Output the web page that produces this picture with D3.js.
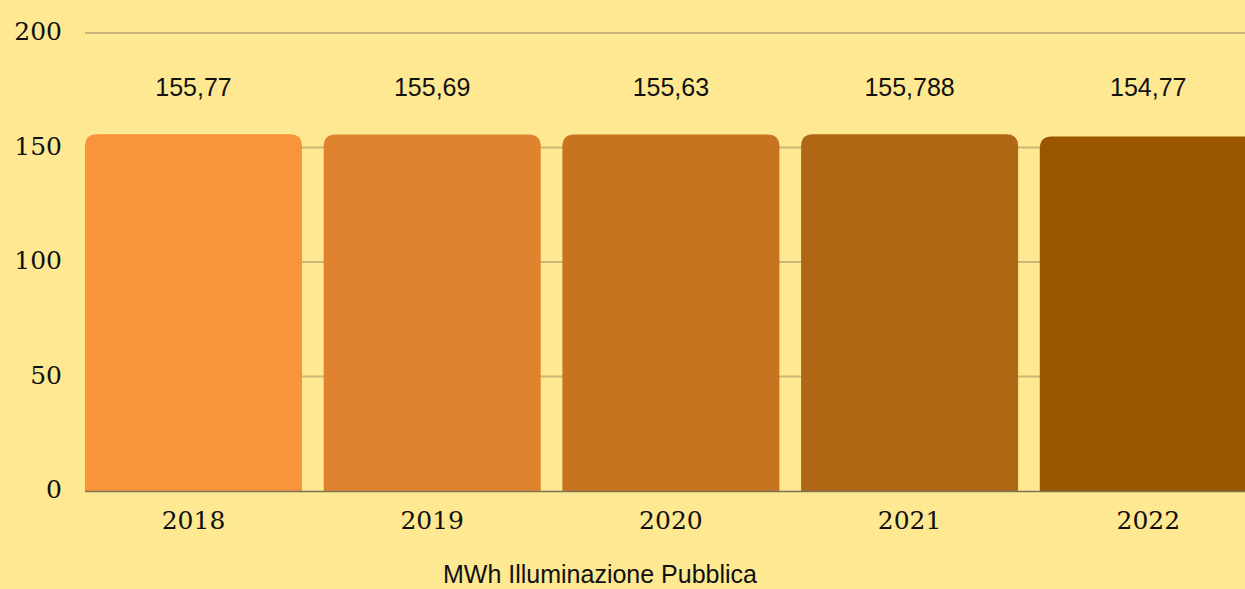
<!DOCTYPE html>
<html lang="it">
<head>
<meta charset="utf-8">
<title>MWh Illuminazione Pubblica</title>
<script src="https://cdn.jsdelivr.net/npm/d3@7"></script>
<style>
  html, body { margin: 0; padding: 0; background: #fee891; }
  svg { display: block; }
</style>
</head>
<body>
<svg id="chart"></svg>
<script>
// dati
var anni = ["2018", "2019", "2020", "2021", "2022"];
var valori = [155.77, 155.69, 155.63, 155.788, 154.77];
var etichette = ["155,77", "155,69", "155,63", "155,788", "154,77"];
var colori = ["#fa943c", "#df832f", "#c77421", "#b06713", "#9b5600"];
var yTicks = [0, 50, 100, 150, 200];

var width = 1245, height = 589;
var svg = d3.select("#chart").attr("width", width).attr("height", height);

var left = 85, step = 238.7, gap = 21.7;
var serif = "'DejaVu Serif', 'Liberation Serif', serif";
var sans = "'Liberation Sans', Arial, sans-serif";

var x = d3.scaleBand()
    .domain(anni)
    .range([left, left + step * anni.length - gap])
    .paddingInner(gap / step)
    .paddingOuter(0);

var y = d3.scaleLinear().domain([0, 200]).range([491, 33]);

// griglia
svg.append("g").selectAll("line")
    .data(yTicks.filter(function(d){ return d > 0; }))
  .enter().append("line")
    .attr("x1", left).attr("x2", width)
    .attr("y1", function(d){ return y(d); })
    .attr("y2", function(d){ return y(d); })
    .attr("stroke", "#c9b577")
    .attr("stroke-width", 2);

// etichette asse y
svg.append("g").selectAll("text")
    .data(yTicks)
  .enter().append("text")
    .attr("x", 62)
    .attr("y", function(d){ return y(d) + 7; })
    .attr("text-anchor", "end")
    .style("font-family", serif)
    .style("font-size", "25px")
    .style("fill", "#111")
    .text(function(d){ return d; });

// barre con angoli superiori arrotondati
var r = 12;
function barPath(d, i) {
  var x0 = x(anni[i]), w = x.bandwidth(), y0 = y(d), y1 = y(0);
  return "M" + x0 + "," + y1 +
    "V" + (y0 + r) +
    "Q" + x0 + "," + y0 + " " + (x0 + r) + "," + y0 +
    "H" + (x0 + w - r) +
    "Q" + (x0 + w) + "," + y0 + " " + (x0 + w) + "," + (y0 + r) +
    "V" + y1 + "Z";
}

svg.append("g").selectAll("path")
    .data(valori)
  .enter().append("path")
    .attr("d", barPath)
    .attr("fill", function(d, i){ return colori[i]; });

// linea di base
svg.append("line")
    .attr("x1", left).attr("x2", width)
    .attr("y1", y(0) + 0.5).attr("y2", y(0) + 0.5)
    .attr("stroke", "#7b7456")
    .attr("stroke-width", 1.5);

// valori sopra le barre
svg.append("g").selectAll("text")
    .data(valori)
  .enter().append("text")
    .attr("x", function(d, i){ return x(anni[i]) + x.bandwidth() / 2; })
    .attr("y", 96)
    .attr("text-anchor", "middle")
    .style("font-family", sans)
    .style("font-size", "25px")
    .style("fill", "#111")
    .text(function(d, i){ return etichette[i]; });

// etichette asse x
svg.append("g").selectAll("text")
    .data(anni)
  .enter().append("text")
    .attr("x", function(d){ return x(d) + x.bandwidth() / 2; })
    .attr("y", 529)
    .attr("text-anchor", "middle")
    .style("font-family", serif)
    .style("font-size", "25px")
    .style("fill", "#111")
    .text(function(d){ return d; });

// titolo asse
svg.append("text")
    .attr("x", 600)
    .attr("y", 583)
    .attr("text-anchor", "middle")
    .style("font-family", sans)
    .style("font-size", "25px")
    .style("fill", "#111")
    .text("MWh Illuminazione Pubblica");
</script>
</body>
</html>
